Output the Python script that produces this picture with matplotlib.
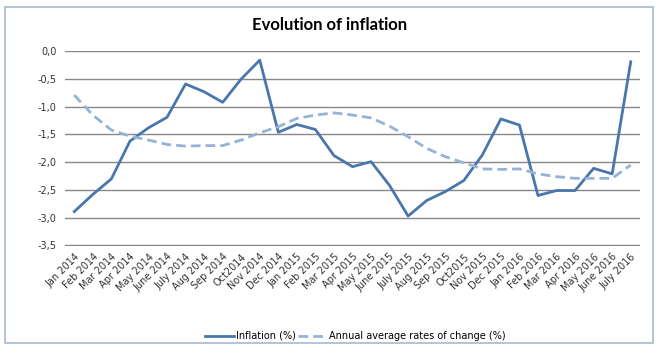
import matplotlib.pyplot as plt
from matplotlib.patches import Rectangle

months = [
    "Jan 2014", "Feb 2014", "Mar 2014", "Apr 2014", "May 2014", "June 2014",
    "July 2014", "Aug 2014", "Sep 2014", "Oct2014", "Nov 2014", "Dec 2014",
    "Jan 2015", "Feb 2015", "Mar 2015", "Apr 2015", "May 2015", "June 2015",
    "July 2015", "Aug 2015", "Sep 2015", "Oct2015", "Nov 2015", "Dec 2015",
    "Jan 2016", "Feb 2016", "Mar 2016", "Apr 2016", "May 2016", "June 2016",
    "July 2016",
]

inflation = [
    -2.89, -2.58, -2.30, -1.62, -1.38, -1.19, -0.59, -0.73, -0.92, -0.50,
    -0.16, -1.46, -1.32, -1.41, -1.88, -2.08, -1.99, -2.42, -2.97, -2.69,
    -2.53, -2.33, -1.87, -1.22, -1.33, -2.60, -2.51, -2.51, -2.11, -2.21,
    -0.19,
]

annual_avg = [
    -0.79, -1.15, -1.42, -1.53, -1.60, -1.68, -1.71, -1.70, -1.70, -1.60,
    -1.47, -1.36, -1.21, -1.15, -1.11, -1.15, -1.20, -1.35, -1.54, -1.75,
    -1.90, -2.01, -2.12, -2.13, -2.12, -2.21, -2.26, -2.29, -2.29, -2.29,
    -2.05,
]

yticks = [0.0, -0.5, -1.0, -1.5, -2.0, -2.5, -3.0, -3.5]

fig = plt.figure(figsize=(6.6, 3.53), dpi=100)
fig.patches.append(Rectangle((5 / 660, 1 - 343 / 353), 648 / 660, 336 / 353,
                             transform=fig.transFigure, fill=False,
                             edgecolor="#a7b9cf", linewidth=1.2))

ax = fig.add_axes([65 / 660, 1 - 246 / 353, 575 / 660, 195 / 353])
x = range(len(months))
ax.plot(x, inflation, color="#4a76ae", linewidth=2.0, label="Inflation (%)")
ax.plot(x, annual_avg, color="#95b3d7", linewidth=2.0, linestyle=(0, (3.5, 1.8)),
        label="Annual average rates of change (%)")

ax.set_xlim(-0.5, len(months) - 0.5)
ax.set_ylim(-3.51, 0.005)
ax.set_yticks(yticks)
ax.set_yticklabels([f"{v:.1f}".replace(".", ",") for v in yticks],
                   fontsize=7, color="#333333")
ax.set_xticks(list(x))
ax.set_xticklabels(months, rotation=45, ha="right", rotation_mode="anchor",
                   fontsize=7, color="#333333")
ax.tick_params(length=0, pad=6)
ax.tick_params(axis="x", pad=4)
for s in ax.spines.values():
    s.set_visible(False)
ax.set_axisbelow(True)
ax.grid(axis="y", color="#888888", linewidth=1.0)
for line in ax.get_lines():
    line.set_clip_on(False)

fig.text(0.5, 1 - 25 / 353, "Evolution of inflation", ha="center", va="center",
         fontsize=12, fontweight="bold", family="Lato")

fig.legend(loc="center", bbox_to_anchor=(355 / 660, 1 - 336 / 353), ncol=2,
           frameon=False, fontsize=7, handlelength=3.0, columnspacing=0.2,
           handletextpad=0.2)

fig.savefig("out.png", dpi=100)
